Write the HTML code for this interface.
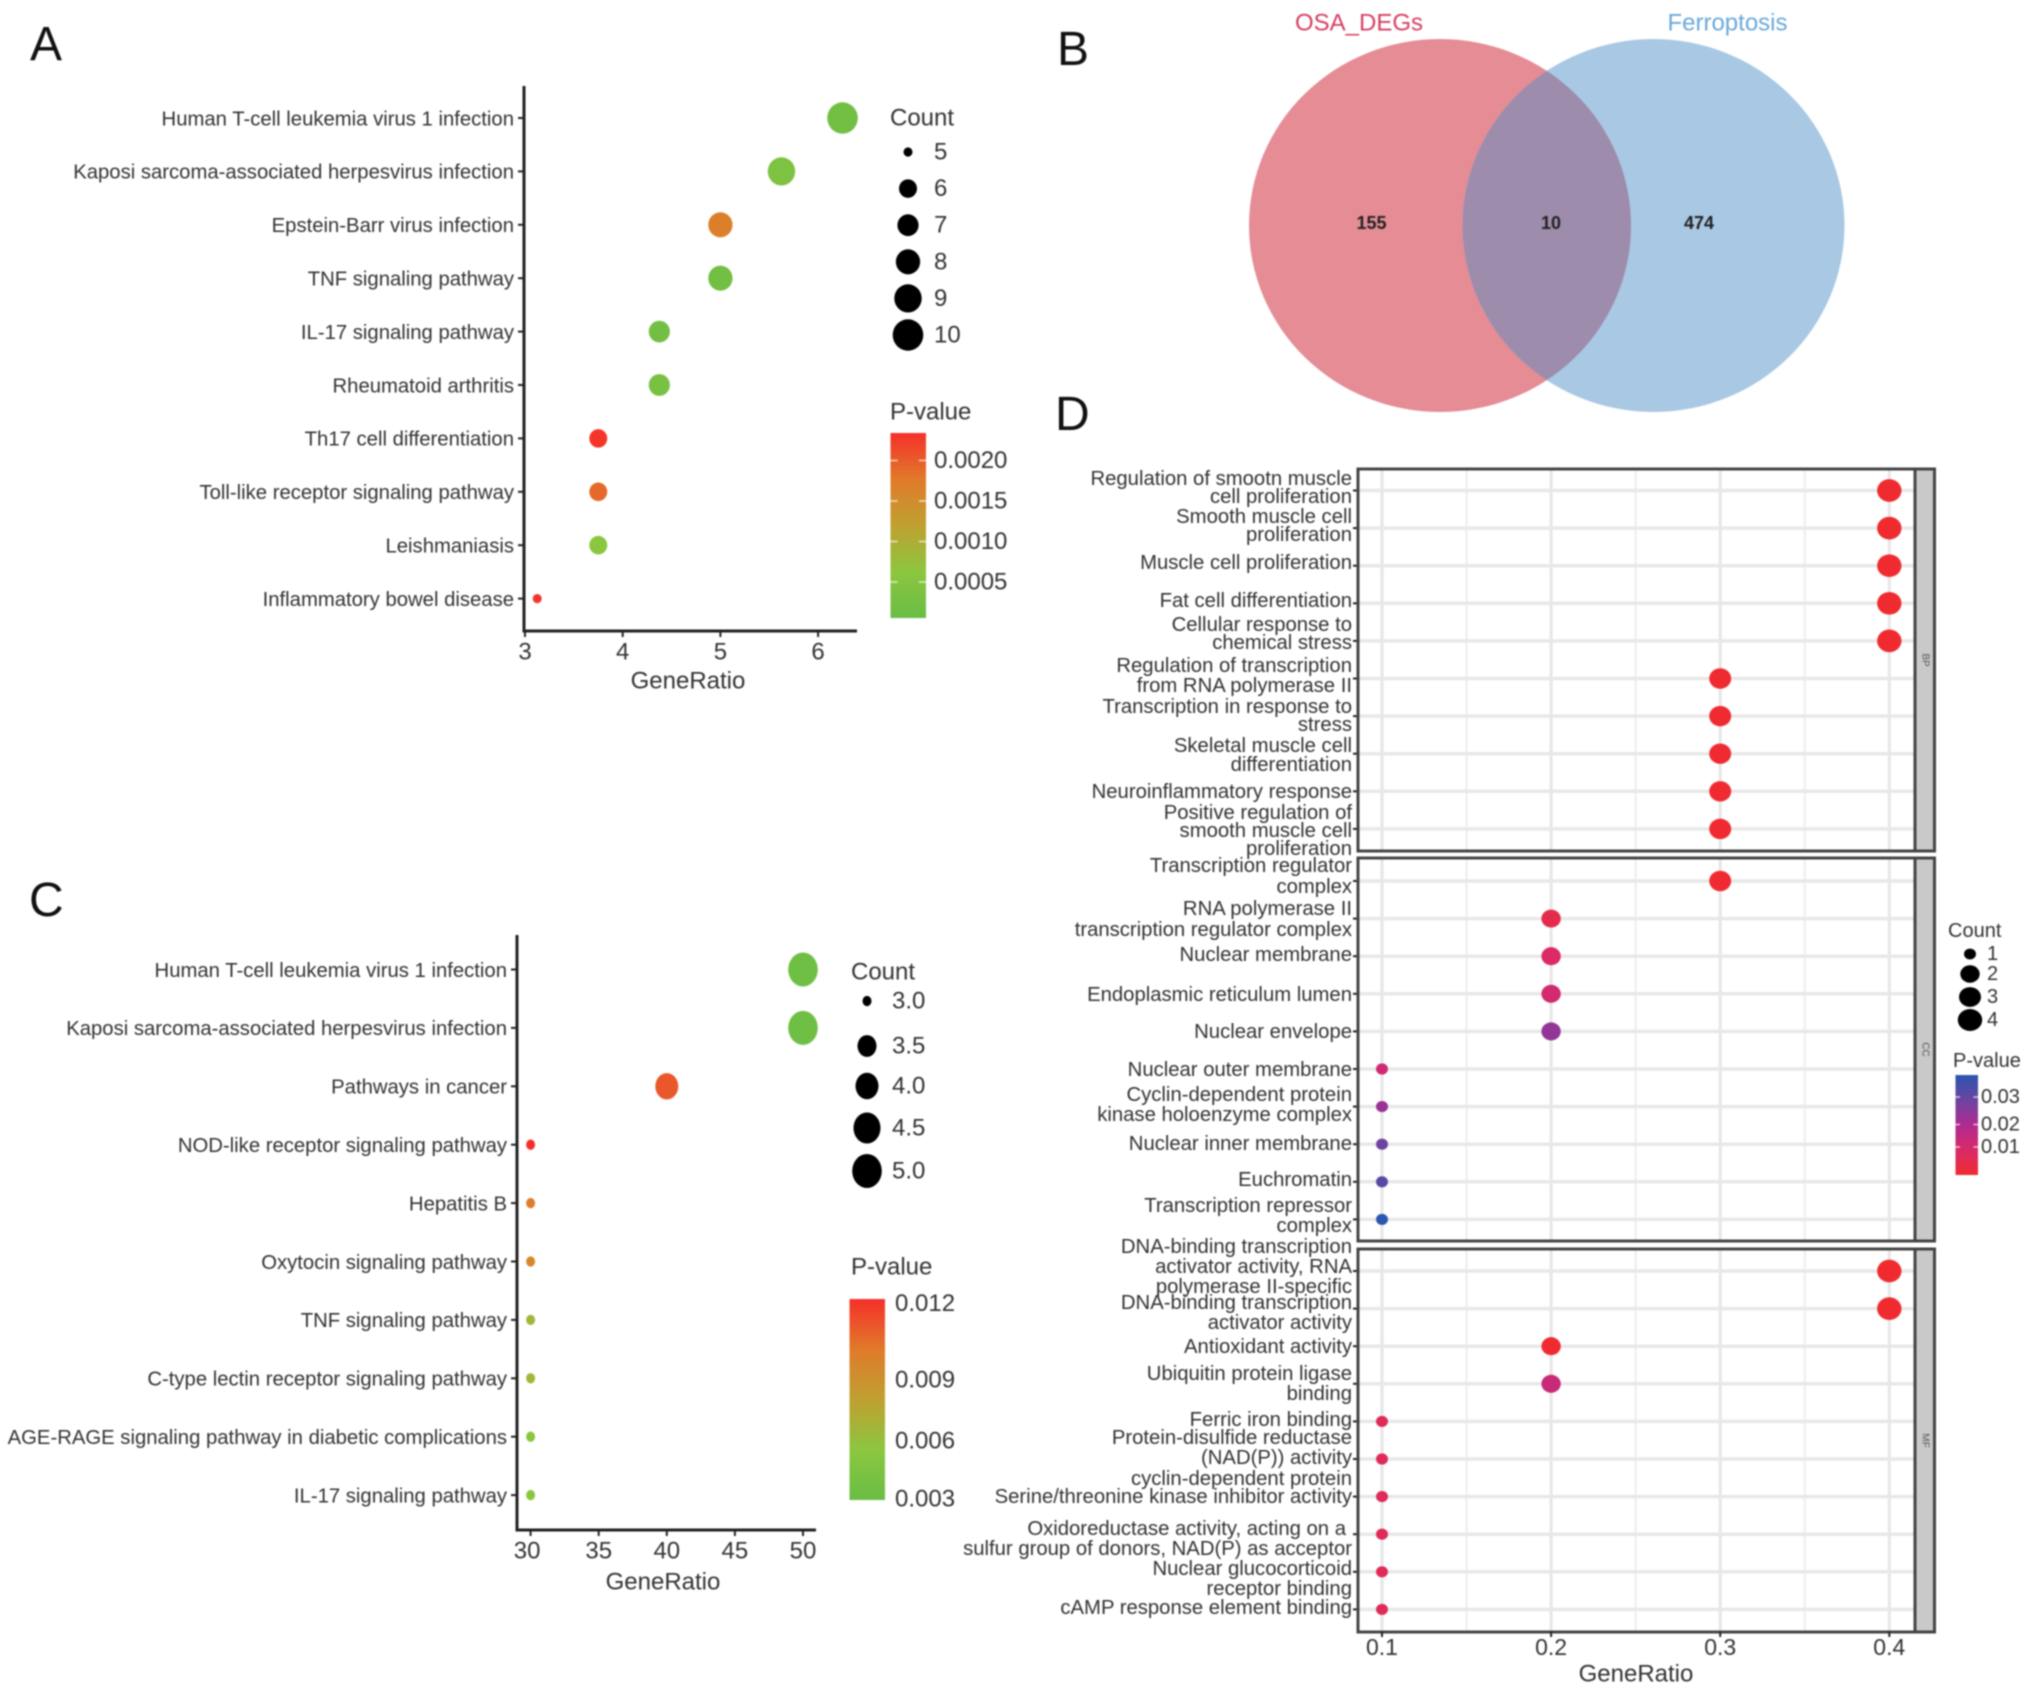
<!DOCTYPE html>
<html lang="en">
<head>
<meta charset="utf-8">
<title>Enrichment dot plots and Venn diagram</title>
<style>
html,body{margin:0;padding:0;background:#fff;width:2032px;height:1694px;overflow:hidden}
svg{display:block;filter:blur(.8px)}
text{font-family:"Liberation Sans",Arial,sans-serif;fill:#333}
.term{font-size:20.3px;text-anchor:end;dominant-baseline:central}
.letter{font-size:48px;fill:#111}
</style>
</head>
<body>
<svg id="figure" xmlns="http://www.w3.org/2000/svg" width="2032" height="1694" viewBox="0 0 2032 1694">
  <rect width="2032" height="1694" fill="#fff"/>
  <text class="letter" x="30" y="60">A</text>
  <text class="letter" x="1057" y="65">B</text>
  <text class="letter" x="29" y="916">C</text>
  <text class="letter" x="1055" y="430">D</text>

  <g transform="translate(0,1)">
    <text class="term"><tspan x="1352" y="478">Regulation of smootn muscle</tspan><tspan x="1352" y="496">cell proliferation</tspan></text>
    <text class="term"><tspan x="1352" y="516">Smooth muscle cell</tspan><tspan x="1352" y="534">proliferation</tspan></text>
    <text class="term" x="1352" y="562">Muscle cell proliferation</text>
    <text class="term" x="1352" y="600">Fat cell differentiation</text>
    <text class="term"><tspan x="1352" y="624">Cellular response to</tspan><tspan x="1352" y="642">chemical stress</tspan></text>
    <text class="term"><tspan x="1352" y="665">Regulation of transcription</tspan><tspan x="1352" y="685">from RNA polymerase II</tspan></text>
    <text class="term"><tspan x="1352" y="706">Transcription in response to</tspan><tspan x="1352" y="724">stress</tspan></text>
    <text class="term"><tspan x="1352" y="745">Skeletal muscle cell</tspan><tspan x="1352" y="764">differentiation</tspan></text>
    <text class="term" x="1352" y="791">Neuroinflammatory response</text>
    <text class="term"><tspan x="1352" y="812">Positive regulation of</tspan><tspan x="1352" y="830">smooth muscle cell</tspan><tspan x="1352" y="848">proliferation</tspan></text>

    <text class="term"><tspan x="1352" y="865">Transcription regulator</tspan><tspan x="1352" y="886">complex</tspan></text>
    <text class="term"><tspan x="1352" y="908">RNA polymerase II</tspan><tspan x="1352" y="929">transcription regulator complex</tspan></text>
    <text class="term" x="1352" y="954">Nuclear membrane</text>
    <text class="term" x="1352" y="994">Endoplasmic reticulum lumen</text>
    <text class="term" x="1352" y="1031">Nuclear envelope</text>
    <text class="term" x="1352" y="1069">Nuclear outer membrane</text>
    <text class="term"><tspan x="1352" y="1094">Cyclin-dependent protein</tspan><tspan x="1352" y="1114">kinase holoenzyme complex</tspan></text>
    <text class="term" x="1352" y="1143">Nuclear inner membrane</text>
    <text class="term" x="1352" y="1179">Euchromatin</text>
    <text class="term"><tspan x="1352" y="1205">Transcription repressor</tspan><tspan x="1352" y="1225">complex</tspan></text>

    <text class="term"><tspan x="1352" y="1246">DNA-binding transcription</tspan><tspan x="1352" y="1266">activator activity, RNA</tspan><tspan x="1352" y="1286">polymerase II-specific</tspan></text>
    <text class="term"><tspan x="1352" y="1302">DNA-binding transcription</tspan><tspan x="1352" y="1322">activator activity</tspan></text>
    <text class="term" x="1352" y="1346">Antioxidant activity</text>
    <text class="term"><tspan x="1352" y="1373">Ubiquitin protein ligase</tspan><tspan x="1352" y="1393">binding</tspan></text>
    <text class="term" x="1352" y="1419">Ferric iron binding</text>
    <text class="term"><tspan x="1352" y="1437">Protein-disulfide reductase</tspan><tspan x="1352" y="1457">(NAD(P)) activity</tspan></text>
    <text class="term"><tspan x="1352" y="1478">cyclin-dependent protein</tspan><tspan x="1352" y="1496">Serine/threonine kinase inhibitor activity</tspan></text>
    <text class="term"><tspan x="1346" y="1528">Oxidoreductase activity, acting on a</tspan><tspan x="1352" y="1548">sulfur group of donors, NAD(P) as acceptor</tspan></text>
    <text class="term"><tspan x="1352" y="1568">Nuclear glucocorticoid</tspan><tspan x="1352" y="1588">receptor binding</tspan></text>
    <text class="term" x="1352" y="1607">cAMP response element binding</text>
  </g>
</svg>

<script>
/* ---------- Panel A data ---------- */
const aTerms = ["Human T-cell leukemia virus 1 infection","Kaposi sarcoma-associated herpesvirus infection","Epstein-Barr virus infection","TNF signaling pathway","IL-17 signaling pathway","Rheumatoid arthritis","Th17 cell differentiation","Toll-like receptor signaling pathway","Leishmaniasis","Inflammatory bowel disease"];
const aRatio = [6.25,5.625,5,5,4.375,4.375,3.75,3.75,3.75,3.125];
const aCount = [10,9,8,8,7,7,6,6,6,5];
const aPvalue = [0.0002,0.0004,0.0017,0.0002,0.0002,0.0003,0.0023,0.0019,0.0006,0.0023];
const aXTicks = [3,4,5,6];
const aCountLegend = [5,6,7,8,9,10];
const aPTicks = [0.002,0.0015,0.001,0.0005];

/* ---------- Panel C data ---------- */
const cTerms = ["Human T-cell leukemia virus 1 infection","Kaposi sarcoma-associated herpesvirus infection","Pathways in cancer","NOD-like receptor signaling pathway","Hepatitis B","Oxytocin signaling pathway","TNF signaling pathway","C-type lectin receptor signaling pathway","AGE-RAGE signaling pathway in diabetic complications","IL-17 signaling pathway"];
const cRatio = [50,50,40,30,30,30,30,30,30,30];
const cCount = [5,5,4,3,3,3,3,3,3,3];
const cPvalue = [0.0034,0.0034,0.0108,0.012,0.0095,0.009,0.0062,0.0062,0.0052,0.0052];
const cXTicks = [30,35,40,45,50];
const cCountLegend = [3,3.5,4,4.5,5];
const cPTicks = [0.012,0.009,0.006,0.003];

/* ---------- Panel B data ---------- */
const vennSets = ["OSA_DEGs","Ferroptosis"];
const vennCounts = [155,10,474];

/* ---------- Panel D data ---------- */
const bpRatio = [0.4,0.4,0.4,0.4,0.4,0.3,0.3,0.3,0.3,0.3];
const bpCount = [4,4,4,4,4,3,3,3,3,3];
const bpPvalue = [0.0008,0.0008,0.0008,0.0008,0.0008,0.0008,0.001,0.001,0.001,0.001];
const ccRatio = [0.3,0.2,0.2,0.2,0.2,0.1,0.1,0.1,0.1,0.1];
const ccCount = [3,2,2,2,2,1,1,1,1,1];
const ccPvalue = [0.001,0.005,0.009,0.011,0.022,0.012,0.021,0.027,0.03,0.036];
const mfRatio = [0.4,0.4,0.2,0.2,0.1,0.1,0.1,0.1,0.1,0.1];
const mfCount = [4,4,2,2,1,1,1,1,1,1];
const mfPvalue = [0.0008,0.0008,0.001,0.013,0.007,0.007,0.007,0.007,0.007,0.007];
const facetNames = ["BP","CC","MF"];
const dXTicks = [0.1,0.2,0.3,0.4];
const dXMinorTicks = [0.15,0.25,0.35];
const dCountLegend = [1,2,3,4];
const dPTicks = [0.03,0.02,0.01];

/* ---------- helpers ---------- */
const NS = "http://www.w3.org/2000/svg";
const svg = document.getElementById("figure");
const defs = document.createElementNS(NS, "defs");
svg.insertBefore(defs, svg.firstChild);

function make(tag, attrs, parent) {
  const node = document.createElementNS(NS, tag);
  for (const k in attrs) node.setAttribute(k, attrs[k]);
  (parent || svg).appendChild(node);
  return node;
}
function interp(domain, range, v) {
  if (v <= domain[0]) return range[0] + (v - domain[0]) * (range[1] - range[0]) / (domain[1] - domain[0]);
  for (let i = 1; i < domain.length; i++) {
    if (v <= domain[i]) {
      return range[i-1] + (v - domain[i-1]) * (range[i] - range[i-1]) / (domain[i] - domain[i-1]);
    }
  }
  const n = domain.length - 1;
  return range[n] + (v - domain[n]) * (range[n] - range[n-1]) / (domain[n] - domain[n-1]);
}
function hexRgb(h) {
  return [parseInt(h.slice(1,3),16), parseInt(h.slice(3,5),16), parseInt(h.slice(5,7),16)];
}
function ramp(offsets, colors, t) {
  const c = Math.max(0, Math.min(1, t));
  for (let i = 1; i < offsets.length; i++) {
    if (c <= offsets[i]) {
      const f = (c - offsets[i-1]) / (offsets[i] - offsets[i-1]);
      const a = hexRgb(colors[i-1]);
      const b = hexRgb(colors[i]);
      return "rgb(" + a.map((x, j) => Math.round(x + (b[j] - x) * f)).join(",") + ")";
    }
  }
  return colors[colors.length - 1];
}

const greenRedOffsets = [0,0.25,0.5,0.75,1];
const greenRedColors = ["#69bd45","#8cc63f","#bfa030","#e07a2a","#f5302a"];
const redBlueOffsets = [0,0.25,0.5,0.75,1];
const redBlueColors = ["#ef2b30","#d92a68","#b02a90","#6a45a0","#2a55b0"];

function drawColorBar(cfg) {
  const grad = make("linearGradient", {id: cfg.id, x1: 0, y1: 1, x2: 0, y2: 0}, defs);
  cfg.offsets.forEach((o, i) => {
    make("stop", {offset: o, "stop-color": cfg.colors[i]}, grad);
  });
  const g = make("g", {});
  
  
  const title = make("text", {x: cfg.titleX, y: cfg.titleY, "font-size": cfg.font, "dominant-baseline": "central"}, g);
  title.textContent = "P-value";
  
  
  const bar = make("rect", {x: cfg.x, y: cfg.top, width: cfg.width, height: cfg.bottom - cfg.top, fill: "url(#" + cfg.id + ")"}, g);
  
  
  cfg.ticks.forEach(v => {
    const y = cfg.scale(v);
    if (cfg.dashes) {
      const d = cfg.width * 0.2;
      const t1 = make("line", {x1: cfg.x, x2: cfg.x + d, y1: y, y2: y, stroke: "#fff", "stroke-opacity": 0.7, "stroke-width": 1.5}, g);
      
      
      const t2 = make("line", {x1: cfg.x + cfg.width - d, x2: cfg.x + cfg.width, y1: y, y2: y, stroke: "#fff", "stroke-opacity": 0.7, "stroke-width": 1.5}, g);
      
      
    }
    const lab = make("text", {x: cfg.labelX, y: y, "font-size": cfg.font, "dominant-baseline": "central"}, g);
    lab.textContent = v.toFixed(cfg.digits);
    
    
  });
}

function drawSizeLegend(cfg) {
  const g = make("g", {});
  
  
  const title = make("text", {x: cfg.titleX, y: cfg.titleY, "font-size": cfg.font, "dominant-baseline": "central"}, g);
  title.textContent = "Count";
  
  
  cfg.values.forEach((v, i) => {
    const y = cfg.y(i);
    const dot = make("ellipse", {cx: cfg.cx, cy: y, rx: cfg.r(v), ry: cfg.r(v) * cfg.aspect, fill: "#000"}, g);
    
    
    const lab = make("text", {x: cfg.labelX, y: y, "font-size": cfg.font, "dominant-baseline": "central"}, g);
    lab.textContent = cfg.digits ? v.toFixed(cfg.digits) : String(v);
    
    
  });
}

function drawDotPlot(cfg) {
  const g = make("g", {});
  
  
  const yAxis = make("line", {x1: cfg.left, x2: cfg.left, y1: cfg.top, y2: cfg.bottom + 1.5, stroke: "#222", "stroke-width": 3}, g);
  
  
  const xAxis = make("line", {x1: cfg.left, x2: cfg.right, y1: cfg.bottom, y2: cfg.bottom, stroke: "#222", "stroke-width": 3}, g);
  
  
  cfg.xTicks.forEach((v, i) => {
    const x = cfg.x(v);
    const tick = make("line", {x1: x, x2: x, y1: cfg.bottom, y2: cfg.bottom + 6, stroke: "#222", "stroke-width": 2}, g);
    
    
    const lab = make("text", {x: x + (i === 0 ? cfg.firstLabelShift : 0), y: cfg.bottom + 21, "font-size": 24, "text-anchor": "middle", "dominant-baseline": "central"}, g);
    lab.textContent = String(v);
    
    
  });
  const xTitle = make("text", {x: cfg.titleX, y: cfg.bottom + cfg.titleGap, "font-size": 24, "text-anchor": "middle", "dominant-baseline": "central"}, g);
  xTitle.textContent = "GeneRatio";
  
  
  cfg.terms.forEach((term, i) => {
    const y = cfg.y(i);
    const tick = make("line", {x1: cfg.left - 6, x2: cfg.left, y1: y, y2: y, stroke: "#222", "stroke-width": 2}, g);
    
    
    const lab = make("text", {x: cfg.left - 10, y: y + 1.3, "font-size": 20.3, "text-anchor": "end", "dominant-baseline": "central"}, g);
    lab.textContent = term;
    
    
    const dot = make("ellipse", {cx: cfg.x(cfg.ratio[i]), cy: y, rx: cfg.r(cfg.count[i]), ry: cfg.r(cfg.count[i]) * cfg.aspect, fill: cfg.color(cfg.p[i])}, g);
    
    
  });
}

/* ---------- Panel A ---------- */
const aX = v => 525 + (v - 3) * 97.7;
const aY = i => 118 + i * 53.4;
const aR = c => interp([5,6,10], [4.5,9,15.3], c);
const aColor = p => ramp(greenRedOffsets, greenRedColors, (p - 0.00006) / 0.00228);
const aPY = p => 460.5 + (0.002 - p) / 0.0005 * 40.5;
drawDotPlot({name: "panel-a", terms: aTerms, ratio: aRatio, count: aCount, p: aPvalue, xTicks: aXTicks, x: aX, y: aY, r: aR, color: aColor, aspect: 1.03, left: 524, right: 857, top: 86, bottom: 631, titleX: 688, titleGap: 50, firstLabelShift: 0});
drawSizeLegend({name: "panel-a", values: aCountLegend, r: aR, aspect: 1.03, cx: 908, y: i => 152 + i * 36.6, labelX: 934, titleX: 890, titleY: 118, font: 24});
drawColorBar({name: "panel-a", id: "gradA", offsets: greenRedOffsets, colors: greenRedColors, x: 890.5, width: 35.5, top: 433, bottom: 618, ticks: aPTicks, scale: aPY, digits: 4, labelX: 934, titleX: 890, titleY: 412, font: 24, dashes: true});

/* ---------- Panel C ---------- */
const cX = v => 530.6 + (v - 30) * 13.62;
const cY = i => 969.5 + i * 58.4;
const cR = c => interp([3,3.5,4,4.5,5], [4.5,9.5,11.5,13.5,14.8], c);
const cColor = p => ramp(greenRedOffsets, greenRedColors, (p - 0.003) / 0.009);
const cPY = p => interp([0.003,0.006,0.009,0.012], [1499,1441,1380,1303.5], p);
const cLegendY = v => interp([3,3.5,4,4.5,5], [1001,1046,1086,1128,1171], v);
drawDotPlot({name: "panel-c", terms: cTerms, ratio: cRatio, count: cCount, p: cPvalue, xTicks: cXTicks, x: cX, y: cY, r: cR, color: cColor, aspect: 1.15, left: 517, right: 816, top: 935, bottom: 1530, titleX: 663, titleGap: 52, firstLabelShift: -3.5});
drawSizeLegend({name: "panel-c", values: cCountLegend, r: cR, aspect: 1.15, cx: 867, y: i => cLegendY(cCountLegend[i]), labelX: 892, titleX: 851, titleY: 972, font: 24, digits: 1});
drawColorBar({name: "panel-c", id: "gradC", offsets: greenRedOffsets, colors: greenRedColors, x: 849.5, width: 35.5, top: 1299, bottom: 1500, ticks: cPTicks, scale: cPY, digits: 3, labelX: 895, titleX: 851, titleY: 1267, font: 24, dashes: false});

/* ---------- Panel B: Venn ---------- */
(function () {
  const g = make("g", {});
  
  
  const cp = make("clipPath", {id: "leftClip"}, defs);
  make("ellipse", {cx: 1440, cy: 225.5, rx: 191, ry: 186.5}, cp);
  const left = make("ellipse", {cx: 1440, cy: 225.5, rx: 191, ry: 186.5, fill: "#e58c95"}, g);
  
  
  const right = make("ellipse", {cx: 1653.5, cy: 225.5, rx: 191, ry: 186.5, fill: "#a9c8e3"}, g);
  
  
  const both = make("ellipse", {cx: 1653.5, cy: 225.5, rx: 191, ry: 186.5, fill: "#9d8cac", "clip-path": "url(#leftClip)"}, g);
  
  
  const t1 = make("text", {x: 1359, y: 23, "font-size": 24, "text-anchor": "middle", "dominant-baseline": "central", style: "fill:#d63f62"}, g);
  t1.textContent = vennSets[0];
  
  
  const t2 = make("text", {x: 1727.5, y: 23, "font-size": 24, "text-anchor": "middle", "dominant-baseline": "central", style: "fill:#6aa9d8"}, g);
  t2.textContent = vennSets[1];
  
  
  const xs = [1371.5, 1551, 1699];
  vennCounts.forEach((v, i) => {
    const n = make("text", {x: xs[i], y: 223, "font-size": 18, "font-weight": "bold", "text-anchor": "middle", "dominant-baseline": "central", style: "fill:#222"}, g);
    n.textContent = String(v);
    
    
  });
})();

/* ---------- Panel D ---------- */
const dX = v => 1382 + (v - 0.1) * 1691;
const dY = (panel, i) => [490.5, 881, 1271][panel] + i * 37.6;
const dR = c => interp([1,2,3,4], [6,9.7,11,12.2], c);
const dColor = p => ramp(redBlueOffsets, redBlueColors, (p - 0.0008) / 0.0352);
const dPY = p => interp([0.01,0.02,0.03], [1147,1124.5,1097], p);

const dFacets = [
  {ratio: bpRatio, count: bpCount, p: bpPvalue, top: 469, bottom: 851},
  {ratio: ccRatio, count: ccCount, p: ccPvalue, top: 858, bottom: 1241},
  {ratio: mfRatio, count: mfCount, p: mfPvalue, top: 1249, bottom: 1632}
];
const dLeft = 1358, dRight = 1915, dStrip = 1934.5;

dFacets.forEach((f, k) => {
  const g = make("g", {});
  
  
  dXMinorTicks.forEach(v => {
    const line = make("line", {x1: dX(v), x2: dX(v), y1: f.top, y2: f.bottom, stroke: "#eeeeee", "stroke-width": 2}, g);
    
    
  });
  dXTicks.forEach(v => {
    const line = make("line", {x1: dX(v), x2: dX(v), y1: f.top, y2: f.bottom, stroke: "#e6e6e6", "stroke-width": 3}, g);
    
    
  });
  f.ratio.forEach((v, i) => {
    const line = make("line", {x1: dLeft, x2: dRight, y1: dY(k, i), y2: dY(k, i), stroke: "#e8e8e8", "stroke-width": 3.5}, g);
    
    
    const tick = make("line", {x1: dLeft - 5, x2: dLeft, y1: dY(k, i), y2: dY(k, i), stroke: "#222", "stroke-width": 2}, g);
    
    
  });
  f.ratio.forEach((v, i) => {
    const dot = make("ellipse", {cx: dX(v), cy: dY(k, i), rx: dR(f.count[i]), ry: dR(f.count[i]) * 0.93, fill: dColor(f.p[i])}, g);
    
    
  });
  const strip = make("rect", {x: dRight, y: f.top, width: dStrip - dRight, height: f.bottom - f.top, fill: "#c9c9c9", stroke: "#444", "stroke-width": 3}, g);
  
  
  const cy = (f.top + f.bottom) / 2;
  const st = make("text", {x: (dRight + dStrip) / 2, y: cy, "font-size": 10, "text-anchor": "middle", "dominant-baseline": "central", transform: "rotate(90 " + (dRight + dStrip) / 2 + " " + cy + ")", style: "fill:#555"}, g);
  st.textContent = facetNames[k];
  
  
  const box = make("rect", {x: dLeft, y: f.top, width: dRight - dLeft, height: f.bottom - f.top, fill: "none", stroke: "#444", "stroke-width": 3}, g);
  
  
});

dXTicks.forEach(v => {
  const tick = make("line", {x1: dX(v), x2: dX(v), y1: 1632, y2: 1637, stroke: "#222", "stroke-width": 2});
  
  
  const lab = make("text", {x: dX(v), y: 1647, "font-size": 23, "text-anchor": "middle", "dominant-baseline": "central"});
  lab.textContent = v.toFixed(1);
  
  
});
const dTitle = make("text", {x: 1636, y: 1674, "font-size": 24, "text-anchor": "middle", "dominant-baseline": "central"});
dTitle.textContent = "GeneRatio";



const dLegendY = v => interp([1,2,3,4], [954,974,997,1020], v);
drawSizeLegend({name: "panel-d", values: dCountLegend, r: dR, aspect: 0.9, cx: 1970, y: i => dLegendY(dCountLegend[i]), labelX: 1987, titleX: 1948, titleY: 931, font: 20});
drawColorBar({name: "panel-d", id: "gradD", offsets: redBlueOffsets, colors: redBlueColors, x: 1955.5, width: 22.5, top: 1075, bottom: 1175, ticks: dPTicks, scale: dPY, digits: 2, labelX: 1981, titleX: 1953, titleY: 1061, font: 20, dashes: true});
</script>
</body>
</html>
